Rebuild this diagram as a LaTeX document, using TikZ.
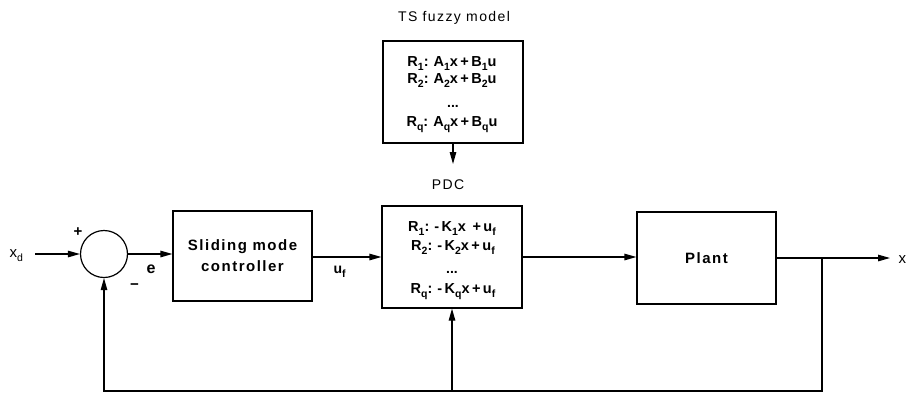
\documentclass[tikz,border=0pt]{standalone}
\usepackage{fontspec}
\setmainfont{Liberation Sans}[LetterSpace=10]
\newfontfamily\rulefont{Liberation Sans}[LetterSpace=17]
\newfontfamily\plainfont{Liberation Sans}
\usetikzlibrary{arrows.meta}
% lowered subscript used in the rule bases and signal names
\newcommand\lowsub[1]{\raisebox{-4pt}{\fontsize{10.5}{11}\selectfont #1}}
% narrow gap after a rule's colon
\newcommand\rgap{\hspace{5pt}}
\begin{document}
\begin{tikzpicture}[x=1pt,y=-1pt,
  line width=1.2pt,
  >={Triangle[length=12pt,width=6.5pt]},
  block/.style={draw, line width=1.2pt, inner sep=0pt},
  title/.style={font=\fontsize{15}{21}\selectfont\bfseries, align=center, inner sep=0pt},
  rule/.style={font=\rulefont\fontsize{14.5}{16}\selectfont\bfseries, inner sep=0pt, anchor=base},
  dots/.style={font=\plainfont\fontsize{14}{16}\selectfont\bfseries, inner sep=0pt, anchor=base},
  lbl/.style={font=\fontsize{14}{16}\selectfont, inner sep=0pt},
]
\useasboundingbox (0,0) rectangle (909,392);

% TS fuzzy model rule base
\node[lbl] (tslabel) at (454,18) {TS fuzzy model};
\node[block, minimum width=140pt, minimum height=102pt] (ts) at (453,92) {};
\node[rule] (ts1) at (452,66) {R\lowsub{1}:\rgap A\lowsub{1}x+B\lowsub{1}u};
\node[rule] (ts2) at (452,83) {R\lowsub{2}:\rgap A\lowsub{2}x+B\lowsub{2}u};
\node[dots] (tsd) at (453,107) {...};
\node[rule] (tsq) at (452,126) {R\lowsub{q}:\rgap A\lowsub{q}x+B\lowsub{q}u};

% parallel distributed compensation
\node[lbl] (pdclabel) at (448,185) {PDC};
\node[block, minimum width=140pt, minimum height=102pt] (pdc) at (452,257) {};
\node[rule] (pdc1) at (452,231) {R\lowsub{1}:\rgap -K\lowsub{1}x +u\lowsub{f}};
\node[rule] (pdc2) at (453,250) {R\lowsub{2}:\rgap -K\lowsub{2}x+u\lowsub{f}};
\node[dots] (pdcd) at (452,273) {...};
\node[rule] (pdcq) at (453,293) {R\lowsub{q}:\rgap -K\lowsub{q}x+u\lowsub{f}};

% summing junction, controller and plant
\node[draw, circle, line width=1.2pt, minimum size=47pt, inner sep=0pt] (sum) at (104,254) {};
\node[block, minimum width=139pt, minimum height=90pt, title] (smc) at (242.5,256) {Sliding mode\\controller};
\node[block, minimum width=139pt, minimum height=92pt, title] (plant) at (706.5,258) {Plant};

% signal labels
\node[lbl, anchor=base west, font=\fontsize{15}{16}\selectfont] (xd) at (9,257) {x\lowsub{d}};
\node[lbl, font=\fontsize{15}{16}\selectfont\bfseries] (plus) at (78,232) {+};
\node[lbl, font=\fontsize{15}{16}\selectfont\bfseries] (minus) at (134.5,287) {\char"2212};
\node[lbl, anchor=base west, font=\fontsize{16}{16}\selectfont\bfseries] (elbl) at (146,273) {e};
\node[lbl, anchor=base west, font=\fontsize{14}{16}\selectfont\bfseries] (uf) at (333,273) {u\lowsub{f}};
\node[lbl, anchor=base west, font=\fontsize{15}{16}\selectfont] (xout) at (898,263) {x};

% connection points
\coordinate (xdin) at (35,254);
\coordinate (tip) at (890,258);
\coordinate (branch) at (822,258);
\coordinate (br) at (822,391);
\coordinate (bl) at (104,391);
\coordinate (pdcfb) at (452,391);
\coordinate (pdcin) at (453,164);

% signal flow
\draw[->] (xdin) -- (sum.west);
\draw[->] (sum.east) -- (sum.east -| smc.west);
\draw[->] (smc.east |- 0,257) -- (pdc.west |- 0,257);
\draw[->] (pdc.east) -- (pdc.east -| plant.west);
\draw[->] (plant.east) -- (tip);
\draw[->] (branch) -- (br) -- (bl) -- (sum.south);
\draw[->] (pdcfb) -- (pdc.south);
\draw[->] (ts.south) -- (pdcin);
\end{tikzpicture}
\end{document}
